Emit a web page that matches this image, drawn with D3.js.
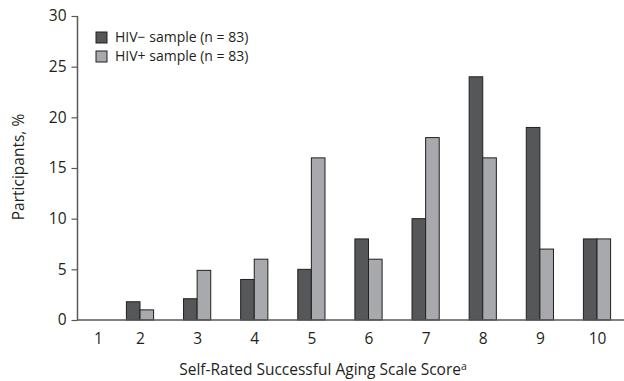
<!DOCTYPE html>
<html>
<head>
<meta charset="utf-8">
<script src="https://cdn.jsdelivr.net/npm/d3@7/dist/d3.min.js"></script>
<style>
  html, body { margin: 0; padding: 0; background: #fff; }
  svg { display: block; font-family: "Open Sans", "Noto Sans", sans-serif; }
</style>
</head>
<body>
<svg id="chart" width="624" height="381"></svg>
<script>
const scores = [1, 2, 3, 4, 5, 6, 7, 8, 9, 10];
const hivNeg = [0, 1.8, 2.1, 4, 5, 8, 10, 24, 19, 8];
const hivPos = [0, 1, 4.9, 6, 16, 6, 18, 16, 7, 8];
const seriesNames = ["HIV\u2212 sample (n = 83)", "HIV+ sample (n = 83)"];
const yTicks = [0, 5, 10, 15, 20, 25, 30];

const colors = ["#555759", "#a7a9ac"];
const svg = d3.select("#chart");

const y = d3.scaleLinear().domain([0, 30]).range([320, 16]);
// piecewise scale reproducing the original's tick placement
const x = d3.scaleLinear().domain([1, 2, 10]).range([98, 140, 597]);
const barW = 13.6;

// bars
const series = [hivNeg, hivPos];
series.forEach((vals, si) => {
  svg.append("g").selectAll("rect")
    .data(scores.map((s, i) => ({ s, v: vals[i] })).filter(d => d.v > 0))
    .join("rect")
    .attr("x", d => x(d.s) + (si === 0 ? -barW : 0))
    .attr("width", barW)
    .attr("y", d => y(d.v))
    .attr("height", d => y(0) - y(d.v))
    .attr("fill", colors[si])
    .attr("stroke", "#231f20")
    .attr("stroke-width", 1);
});

// y axis
const yAxis = d3.axisLeft(y).tickValues(yTicks).tickSize(6).tickPadding(5);
const gy = svg.append("g").attr("transform", "translate(77.5,0)").call(yAxis);
gy.select(".domain").attr("stroke", "#58595b").attr("stroke-width", 1.5).attr("d", "M0,16V320");
gy.selectAll(".tick line").attr("stroke", "#58595b").attr("stroke-width", 1.2);
gy.selectAll(".tick text").attr("fill", "#231f20").style("font-size", "15.5px")
  .style("font-family", "'Open Sans', sans-serif");

// x baseline
const gx = svg.append("g").attr("transform", "translate(0,320)")
  .call(d3.axisBottom(x).tickValues(scores).tickSize(0).tickPadding(13).tickFormat(d3.format("d")));
gx.select(".domain").attr("stroke", "#58595b").attr("stroke-width", 1.5).attr("d", "M77,0H624");
gx.selectAll(".tick text").attr("fill", "#231f20").style("font-size", "15.5px")
  .style("font-family", "'Open Sans', sans-serif");

// axis titles
svg.append("text")
  .attr("transform", "translate(20,167) rotate(-90)")
  .attr("text-anchor", "middle")
  .attr("dominant-baseline", "middle")
  .style("font-size", "15.5px")
  .attr("fill", "#231f20")
  .text("Participants, %");

const xt = svg.append("text")
  .attr("x", 323).attr("y", 375)
  .attr("text-anchor", "middle")
  .style("font-size", "15.5px")
  .attr("fill", "#231f20");
xt.append("tspan").text("Self-Rated Successful Aging Scale Score");
xt.append("tspan").attr("dy", -5).style("font-size", "10.5px").text("a");

// legend
const lg = svg.append("g");
seriesNames.forEach((name, i) => {
  const row = lg.append("g").attr("transform", `translate(96,${32 + i * 19})`);
  row.append("rect").attr("width", 11).attr("height", 11)
    .attr("fill", colors[i]).attr("stroke", "#231f20").attr("stroke-width", 1);
  row.append("text").attr("x", 19).attr("y", 6)
    .attr("dominant-baseline", "middle")
    .style("font-size", "14px").attr("fill", "#231f20").text(name);
});
</script>
</body>
</html>
